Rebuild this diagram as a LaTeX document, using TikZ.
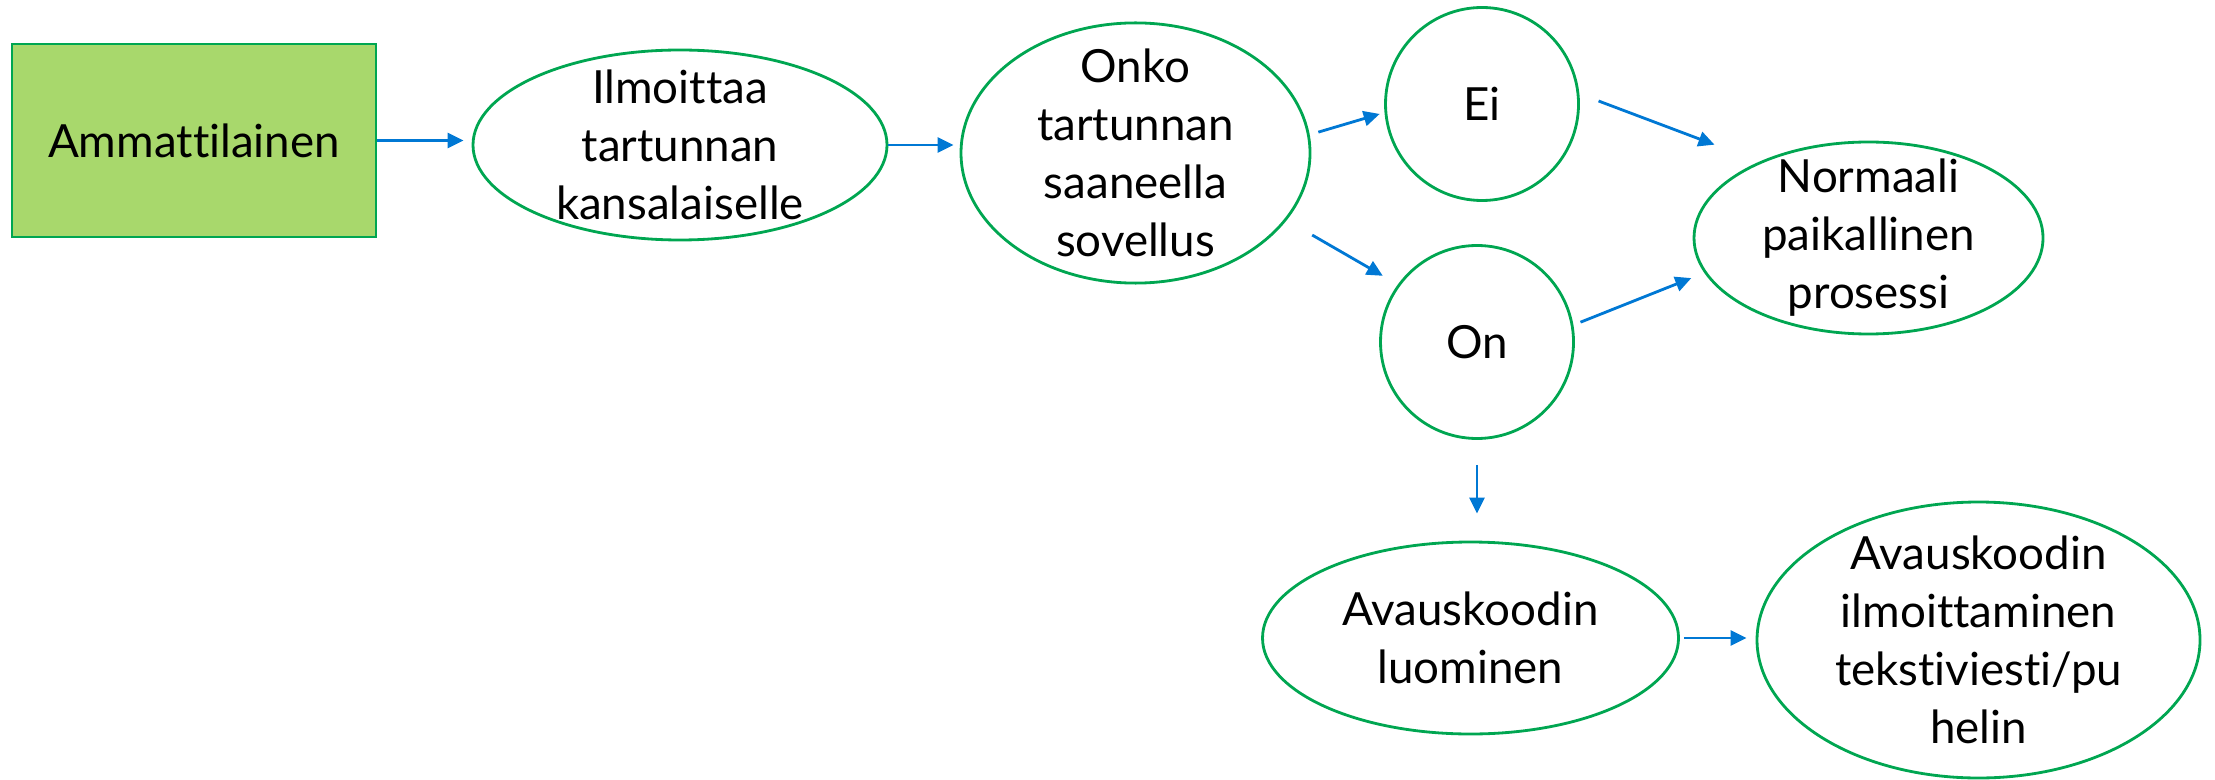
\documentclass[tikz,border=0pt]{standalone}
\usepackage{fontspec}
\setmainfont{Lato}[Ligatures=NoCommon]
\usetikzlibrary{arrows.meta,shapes.geometric,positioning}
\definecolor{nodegreen}{RGB}{0,166,81}
\definecolor{fillgreen}{RGB}{168,216,108}
\definecolor{arrowblue}{RGB}{0,120,212}

\begin{document}
\begin{tikzpicture}[
  actor/.style={
    draw=nodegreen,
    fill=fillgreen,
    line width=0.8pt,
    minimum width=36.4mm,
    minimum height=19.3mm,
    font=\fontsize{13pt}{16.5pt}\selectfont
  },
  bubble/.style={
    ellipse,
    draw=nodegreen,
    line width=0.8pt,
    inner xsep=0pt,
    inner ysep=-1.2mm,
    align=center,
    font=\fontsize{13pt}{16.5pt}\selectfont
  },
  answer/.style={
    circle,
    draw=nodegreen,
    line width=0.8pt,
    minimum size=19.3mm,
    font=\fontsize{13pt}{16.5pt}\selectfont
  },
  flow/.style={-{Triangle[length=1.6mm,width=1.5mm]}, line width=0.8pt, draw=arrowblue}
]

\useasboundingbox (0,0) rectangle (221.5mm,77.9mm);

% Notification chain
\node[actor] (ammat) at (19.4mm,63.85mm) {Ammattilainen};
\node[bubble, minimum width=41.4mm, minimum height=19mm] (ilm) at (68mm,63.4mm)
  {Ilmoittaa\\tartunnan\\kansalaiselle};
\node[bubble, minimum width=34.9mm, minimum height=26mm] (onko) at (113.55mm,62.6mm)
  {Onko\\tartunnan\\saaneella\\sovellus};

% Answers
\node[answer] (ei) at (148.2mm,67.5mm) {Ei};
\node[answer] (on) at (147.7mm,43.7mm) {On};

\node[bubble, minimum width=34.9mm, minimum height=19.2mm] (norm) at (186.85mm,54.1mm)
  {Normaali\\paikallinen\\prosessi};

% Code branch
\node[bubble, minimum width=41.6mm, minimum height=19.2mm] (avk) at (147.05mm,14.1mm)
  {Avauskoodin\\luominen};
\node[bubble, minimum width=44.3mm, minimum height=27.6mm] (avi) at (197.85mm,13.9mm)
  {Avauskoodin\\ilmoittaminen\\tekstiviesti/pu\\helin};

% Connectors
\draw[flow, shorten >=0.8mm] (ammat.east) -- (ammat.east -| ilm.west);
\draw[flow, shorten >=0.6mm] (ilm.east) -- (ilm.east -| onko.west);
\draw[flow, shorten <=0.9mm, shorten >=0.5mm] (onko.6.9) -- (ei.185.2);
\draw[flow, shorten <=2.95mm, shorten >=1.73mm] (onko.-24.8) -- (on.144.9);
\draw[flow, shorten <=2.05mm, shorten >=4.8mm] (ei.6) -- (norm.145.4);
\draw[flow, shorten <=0.76mm, shorten >=1.4mm] (on.10.3) -- (norm.192.15);
\draw[flow, shorten <=2.5mm, shorten >=2.7mm] (on.south) -- (on.south |- avk.north);
\draw[flow, shorten <=0.4mm, shorten >=0.9mm] (avk.east) -- (avk.east -| avi.west);

\end{tikzpicture}
\end{document}
